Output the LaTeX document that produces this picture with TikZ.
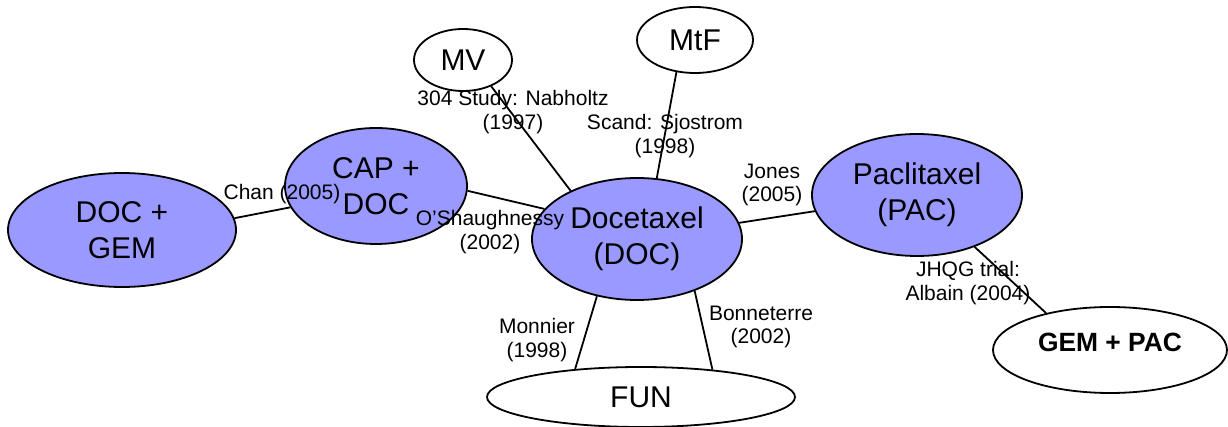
\documentclass[tikz,border=0pt]{standalone}
\usepackage{fontspec}
\setmainfont{Liberation Sans}
\usetikzlibrary{shapes.geometric}
\definecolor{drugblue}{HTML}{9999FF}

\begin{document}
\begin{tikzpicture}[
x = 0.5pt, y = -0.5pt,
every node/.style = {inner sep=0pt},
drug/.style    = {ellipse, draw, line width=0.9pt, fill=drugblue, align=center,
                  font=\fontsize{15}{18}\selectfont},
trial/.style   = {ellipse, draw, line width=0.9pt, fill=white, align=center,
                  font=\fontsize{15}{18}\selectfont},
study/.style   = {align=center, font=\fontsize{10.5}{11.6}\selectfont},
link/.style    = {draw, line width=0.9pt}
]
\useasboundingbox (0,0) rectangle (1228,427);

% treatments
\node [drug, minimum width=114pt, minimum height=57pt] (docgem) at (122,230) {DOC +\\GEM};
\node [drug, minimum width=91pt, minimum height=58pt] (capdoc) at (376,186) {CAP +\\DOC};
\node [drug, minimum width=105pt, minimum height=61pt] (doc) at (637,239) {Docetaxel\\(DOC)};
\node [drug, minimum width=105pt, minimum height=61pt] (pac) at (917,195) {Paclitaxel\\(PAC)};
\node [trial, minimum width=49pt, minimum height=31pt] (mv) at (463,60) {MV};
\node [trial, minimum width=58pt, minimum height=33pt] (mtf) at (695,40) {MtF};
\node [trial, minimum width=154pt, minimum height=30pt] (fun) at (641,397) {FUN};
\node [trial, minimum width=117pt, minimum height=43pt, text height=9.5pt, text depth=8pt,
       font=\fontsize{13.2}{16}\selectfont\bfseries] (gempac) at (1110,350) {GEM + PAC};

% comparisons
\draw [link] (docgem.6) -- (capdoc.194);
\draw [link] (capdoc.-3) -- (doc.162);
\draw [link] (mv.-43) -- (doc.144);
\draw [link] (mtf.-120) -- (doc.72);
\draw [link] (doc.9) -- (pac.189);
\draw [link] (pac.-42) -- (gempac.150);
\draw [link] (doc.-125) -- (fun.157);
\draw [link] (doc.-42) -- (fun.21);

% study names
\node [study] (chan) at (282,194) {Chan (2005)};
\node [study] (osh) at (490,232) {O’Shaughnessy\\(2002)};
\node [study] (nab) at (513,112) {304 Study: Nabholtz\\(1997)};
\node [study] (sjo) at (665,136) {Scand: Sjostrom\\(1998)};
\node [study] (jones) at (772,185) {Jones\\(2005)};
\node [study] (jhqg) at (968,283) {JHQG trial:\\Albain (2004)};
\node [study] (monnier) at (537,340) {Monnier\\(1998)};
\node [study] (bonn) at (761,327) {Bonneterre\\(2002)};
\end{tikzpicture}
\end{document}
